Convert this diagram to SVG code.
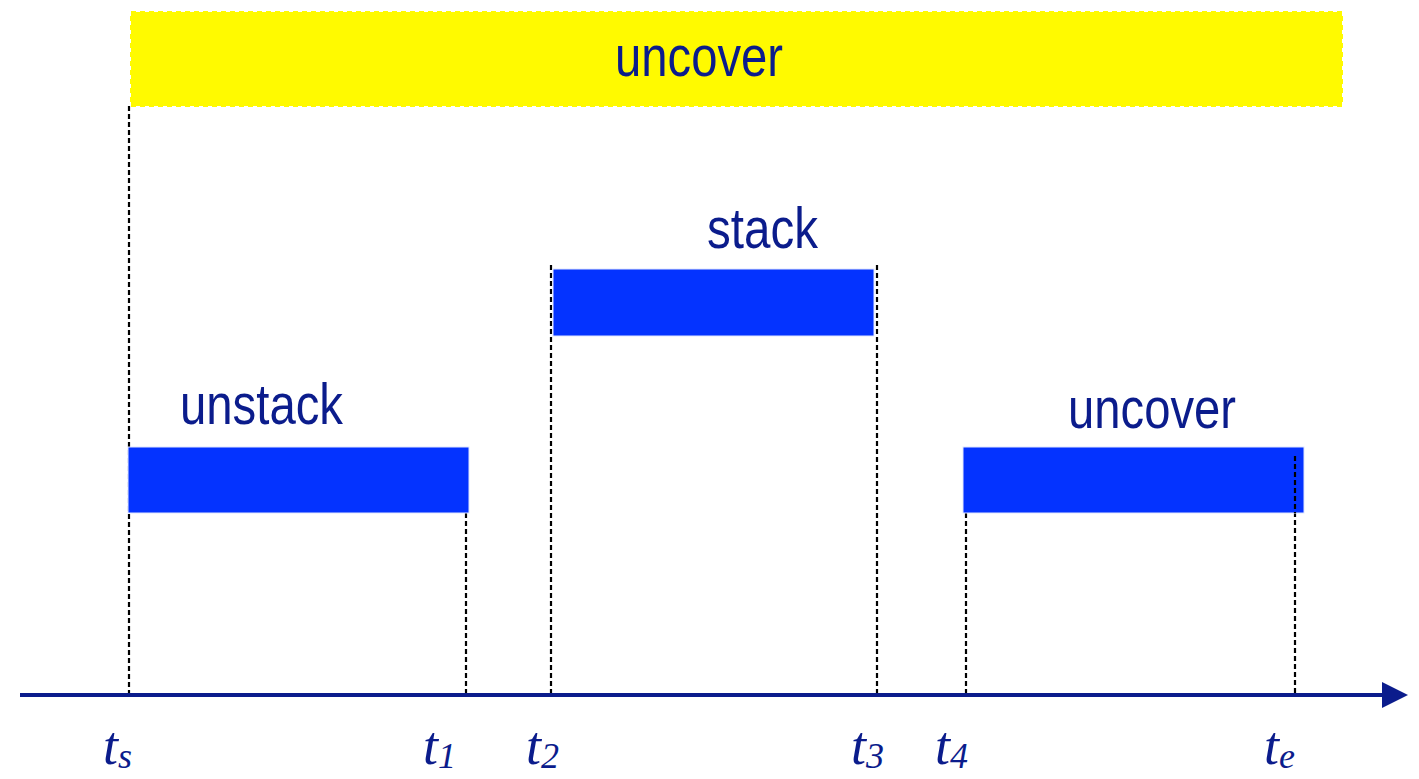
<svg xmlns="http://www.w3.org/2000/svg" width="1419" height="779" viewBox="0 0 1419 779">
  <style>
    .lbl { font-family: "Liberation Sans", Arial, sans-serif; font-size: 57px; fill: #0b1c8c; }
    .tm { font-family: "Liberation Serif", "Times New Roman", serif; font-style: italic; font-size: 54px; fill: #0b1c8c; }
    .sub { font-size: 36px; }
    .bar { fill: #0433ff; stroke: #dfe6ff; stroke-width: 1; }
    .guide { stroke: #000; stroke-width: 2.2; stroke-dasharray: 5 3; fill: none; }
  </style>
  <defs>
    <marker id="arrow" markerUnits="userSpaceOnUse" markerWidth="26" markerHeight="26" refX="2" refY="13" orient="auto">
      <path d="M0,0 L26,13 L0,26 Z" fill="#0b1c8c"/>
    </marker>
  </defs>
  <rect width="1419" height="779" fill="#fff"/>

  <!-- overall action spanning the whole interval -->
  <g id="uncover-top">
    <rect x="131" y="12" width="1211" height="94" fill="#fffa00" stroke="#fffa00" stroke-width="2" stroke-dasharray="5 4"/>
    <text class="lbl" x="615" y="76" textLength="168" lengthAdjust="spacingAndGlyphs">uncover</text>
  </g>

  <!-- dashed time guides -->
  <g id="guides">
    <line class="guide" x1="129" y1="106" x2="129" y2="695"/>
    <line class="guide" x1="466" y1="513" x2="466" y2="695"/>
    <line class="guide" x1="551" y1="265" x2="551" y2="695"/>
    <line class="guide" x1="877" y1="265" x2="877" y2="695"/>
    <line class="guide" x1="966" y1="513" x2="966" y2="695"/>
    <line class="guide" x1="1295" y1="456" x2="1295" y2="695"/>
  </g>

  <g id="unstack">
    <rect class="bar" x="128" y="447" width="341" height="66"/>
    <text class="lbl" x="180" y="424" textLength="163" lengthAdjust="spacingAndGlyphs">unstack</text>
  </g>

  <g id="stack">
    <rect class="bar" x="553" y="269" width="321" height="67"/>
    <text class="lbl" x="707" y="248" textLength="111" lengthAdjust="spacingAndGlyphs">stack</text>
  </g>

  <g id="uncover">
    <rect class="bar" x="963" y="447" width="341" height="66"/>
    <line class="guide" x1="1295" y1="456" x2="1295" y2="513"/>
    <text class="lbl" x="1068" y="428" textLength="168" lengthAdjust="spacingAndGlyphs">uncover</text>
  </g>

  <!-- time axis -->
  <g id="connectors">
    <line x1="20" y1="695" x2="1384" y2="695" stroke="#0b1c8c" stroke-width="4" marker-end="url(#arrow)"/>
  </g>

  <g id="time-labels">
    <text class="tm" x="103" y="764">t<tspan class="sub" dy="4">s</tspan></text>
    <text class="tm" x="423" y="764">t<tspan class="sub" dy="4">1</tspan></text>
    <text class="tm" x="526" y="764">t<tspan class="sub" dy="4">2</tspan></text>
    <text class="tm" x="851" y="764">t<tspan class="sub" dy="4">3</tspan></text>
    <text class="tm" x="935" y="764">t<tspan class="sub" dy="4">4</tspan></text>
    <text class="tm" x="1264" y="764">t<tspan class="sub" dy="4">e</tspan></text>
  </g>
</svg>
